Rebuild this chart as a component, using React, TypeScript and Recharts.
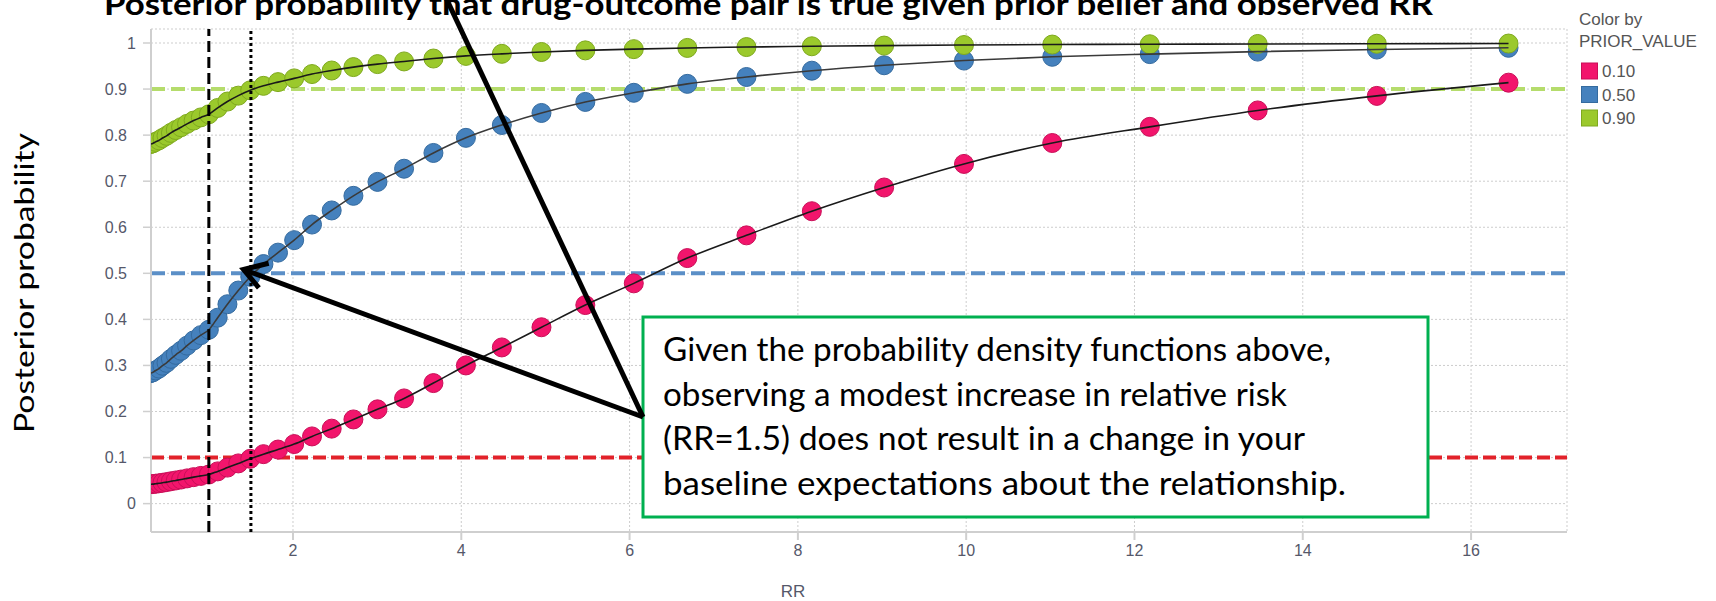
import React from 'react';
import { ComposedChart, Scatter, Line, XAxis, YAxis, CartesianGrid, ReferenceLine } from 'recharts';

// Observed relative risk (x positions of the points)
const RR = [0.301, 0.333, 0.368, 0.407, 0.449, 0.497, 0.549, 0.607, 0.670, 0.741, 0.819, 0.905, 1.000, 1.105, 1.221, 1.350, 1.492, 1.649, 1.822, 2.014, 2.226, 2.460, 2.718, 3.004, 3.320, 3.669, 4.055, 4.482, 4.953, 5.474, 6.050, 6.686, 7.389, 8.166, 9.025, 9.974, 11.023, 12.182, 13.464, 14.880, 16.445];

// Posterior probability for each prior
const POST_010 = [0.042, 0.0424, 0.0432, 0.0441, 0.0453, 0.0467, 0.0485, 0.0503, 0.0523, 0.0548, 0.0575, 0.0602, 0.0631, 0.070, 0.0782, 0.0873, 0.0973, 0.1074, 0.1174, 0.1293, 0.1459, 0.1628, 0.1828, 0.2047, 0.2284, 0.2617, 0.300, 0.3391, 0.3829, 0.4311, 0.4782, 0.5331, 0.5824, 0.6348, 0.6863, 0.7375, 0.7829, 0.818, 0.8536, 0.8852, 0.9139];
const POST_050 = [0.2829, 0.2849, 0.2891, 0.2932, 0.2994, 0.3057, 0.3143, 0.323, 0.3318, 0.343, 0.3543, 0.3658, 0.3775, 0.4037, 0.4329, 0.4626, 0.4925, 0.52, 0.5449, 0.572, 0.6059, 0.6365, 0.6682, 0.6985, 0.7271, 0.7613, 0.7941, 0.822, 0.8481, 0.8721, 0.8919, 0.9113, 0.9262, 0.9399, 0.9517, 0.9619, 0.9701, 0.9759, 0.9813, 0.9858, 0.9896];
const POST_090 = [0.7803, 0.782, 0.7854, 0.7887, 0.7937, 0.7985, 0.8049, 0.8111, 0.8172, 0.8245, 0.8316, 0.8385, 0.8452, 0.859, 0.8729, 0.8857, 0.8973, 0.907, 0.9151, 0.9232, 0.9326, 0.9403, 0.9477, 0.9542, 0.96, 0.9663, 0.972, 0.9765, 0.9805, 0.984, 0.9867, 0.9893, 0.9912, 0.9929, 0.9944, 0.9956, 0.9966, 0.9973, 0.9979, 0.9984, 0.9988];

const PRIOR_LABELS = ['0.10', '0.50', '0.90'];
const PRIOR_VALUES = [0.1, 0.5, 0.9];
const X_TICKS = [2, 4, 6, 8, 10, 12, 14, 16];
const Y_TICKS = [0, 0.1, 0.2, 0.3, 0.4, 0.5, 0.6, 0.7, 0.8, 0.9, 1];
const RR_MARKS = [1, 1.5];

const TITLE = 'Posterior probability that drug-outcome pair is true given prior belief and observed RR';
const NOTE_LINES = [
  'Given the probability density functions above,',
  'observing a modest increase in relative risk',
  '(RR=1.5) does not result in a change in your',
  'baseline expectations about the relationship.',
];
const NOTE_WIDTHS = [668, 624, 642, 683];

const COLORS = [
  { fill: '#f2156c', stroke: '#c90f58', ref: '#e2222a' },
  { fill: '#4581bd', stroke: '#356b9f', ref: '#5b8fc7' },
  { fill: '#9bc92c', stroke: '#7fa91e', ref: '#b5dc6c' },
];

const SERIES = [POST_010, POST_050, POST_090].map((ys) => RR.map((x, i) => ({ x, y: ys[i] })));

const makeDot = (fill: string, stroke: string) => (props: any) => {
  const { cx, cy } = props;
  if (cx == null || cy == null) return <g />;
  return <circle cx={cx} cy={cy} r={9.5} fill={fill} stroke={stroke} strokeWidth={1} />;
};

const YTick = (props: any) => {
  const { x, y, payload } = props;
  const v = payload.value as number;
  const label = Number.isInteger(v) ? String(v) : v.toFixed(1);
  const dx = label.length === 1 ? -7 : -16;
  return (
    <text x={x + dx} y={y} dy={5.5} textAnchor="end" fill="#55586a" fontSize={16} fontFamily="Liberation Sans, Arial, sans-serif">
      {label}
    </text>
  );
};

export default function App() {
  return (
    <div style={{ position: 'absolute', left: 0, top: 0, width: 1716, height: 601, background: '#fff' }}>
      <ComposedChart width={1716} height={601} margin={{ top: 29, right: 149, bottom: 29, left: 0 }}>
        <CartesianGrid stroke="#cdcdcd" strokeDasharray="2 2" zIndex={-100} />
        <XAxis
          type="number"
          dataKey="x"
          domain={[0.3126, 17.14]}
          ticks={X_TICKS}
          allowDataOverflow
          height={40}
          axisLine={{ stroke: '#cfcfcf', strokeWidth: 2 }}
          tickLine={{ stroke: '#cfcfcf', strokeWidth: 2 }}
          tickSize={8}
          tickMargin={5}
          tick={{ fill: '#55586a', fontSize: 16, fontFamily: 'Liberation Sans, Arial, sans-serif' }}
        />
        <YAxis
          type="number"
          dataKey="y"
          domain={[-0.0616, 1.0304]}
          ticks={Y_TICKS}
          allowDataOverflow
          width={151}
          axisLine={{ stroke: '#cfcfcf', strokeWidth: 2 }}
          tickLine={{ stroke: '#cfcfcf', strokeWidth: 1.5 }}
          tickSize={8}
          tickMargin={0}
          tick={<YTick />}
        />
        {PRIOR_VALUES.map((p, i) => (
          <ReferenceLine
            key={'h' + i}
            y={p}
            stroke={COLORS[i].ref}
            strokeWidth={4}
            strokeDasharray={i === 0 ? '13 5' : '14 6'}
            zIndex={50}
          />
        ))}
        {SERIES.map((d, i) => (
          <Scatter
            key={'s' + i}
            data={d}
            dataKey="y"
            shape={makeDot(COLORS[i].fill, COLORS[i].stroke)}
            isAnimationActive={false}
            zIndex={600 + i}
          />
        ))}
        {SERIES.map((d, i) => (
          <Line
            key={'l' + i}
            data={d}
            dataKey="y"
            type="monotone"
            dot={false}
            activeDot={false}
            stroke={i === 1 ? '#3a3a3a' : '#1a1a1a'}
            strokeWidth={1.6}
            isAnimationActive={false}
            zIndex={700}
          />
        ))}
        {RR_MARKS.map((m, i) => (
          <ReferenceLine
            key={'v' + i}
            x={m}
            stroke="#000"
            strokeWidth={3}
            strokeDasharray={i === 0 ? '11 5' : '3 3'}
            zIndex={800}
          />
        ))}
      </ComposedChart>
      <svg width={1716} height={601} style={{ position: 'absolute', left: 0, top: 0, pointerEvents: 'none' }}>
        <text x={768.5} y={15} textAnchor="middle" fontFamily="Lato, sans-serif" fontWeight="bold" fontSize={31} textLength={1329} lengthAdjust="spacingAndGlyphs" fill="#000">
          {TITLE}
        </text>
        <text x={34} y={283} transform="rotate(-90 34 283)" textAnchor="middle" fontFamily="Lato, sans-serif" fontSize={26} textLength={300} lengthAdjust="spacingAndGlyphs" fill="#000">
          Posterior probability
        </text>
        <text x={793} y={597} textAnchor="middle" fontFamily="Liberation Sans, Arial, sans-serif" fontSize={17} fill="#55586a">
          RR
        </text>
        {/* legend */}
        <text x={1579} y={25} fontFamily="Liberation Sans, Arial, sans-serif" fontSize={17} fill="#555">Color by</text>
        <text x={1579} y={47} fontFamily="Liberation Sans, Arial, sans-serif" fontSize={17} fill="#555">PRIOR_VALUE</text>
        {PRIOR_LABELS.map((lab, i) => (
          <g key={lab}>
            <rect x={1581.5} y={63 + i * 23.5} width={16} height={16} fill={COLORS[i].fill} stroke={COLORS[i].stroke} strokeWidth={1} />
            <text x={1602} y={77 + i * 23.5} fontFamily="Liberation Sans, Arial, sans-serif" fontSize={17} fill="#555">{lab}</text>
          </g>
        ))}
        {/* annotation box */}
        <rect x={643} y={317} width={785} height={200} fill="#fff" stroke="#00b050" strokeWidth={3} />
        {NOTE_LINES.map((t, i) => (
          <text key={i} x={663} y={361 + i * 44.5} fontFamily="Lato, sans-serif" fontSize={32} textLength={NOTE_WIDTHS[i]} lengthAdjust="spacingAndGlyphs" fill="#000">
            {t}
          </text>
        ))}
        {/* arrows */}
        <line x1={643} y1={417} x2={437.6} y2={-20} stroke="#000" strokeWidth={5} />
        <line x1={643} y1={417} x2={245} y2={270} stroke="#000" strokeWidth={5} />
        <polyline points="268.7,263.2 243.5,269.5 258.9,287.9" fill="none" stroke="#000" strokeWidth={5} strokeLinejoin="miter" />
      </svg>
    </div>
  );
}
